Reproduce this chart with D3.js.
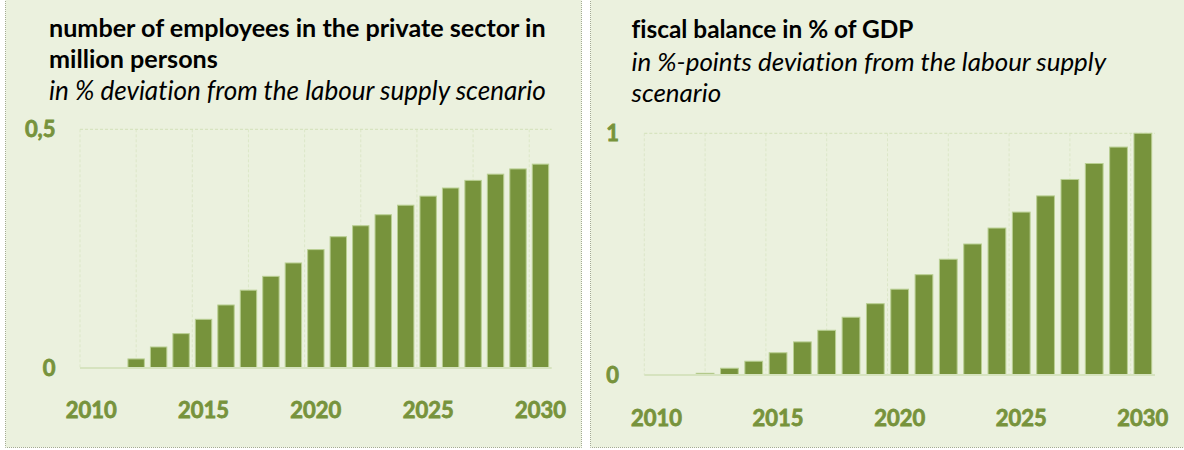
<!DOCTYPE html>
<html><head><meta charset="utf-8">
<script src="https://cdn.jsdelivr.net/npm/d3@7"></script>
<style>
body{margin:0;background:#fff}
svg{display:block}
text{font-family:Lato,"Open Sans",sans-serif;font-variant-ligatures:none}
</style>
</head><body>
<svg id="chart" width="1184" height="450"></svg>
<script>
// ---- data ----
const years = [2010,2011,2012,2013,2014,2015,2016,2017,2018,2019,2020,2021,2022,2023,2024,2025,2026,2027,2028,2029,2030];
const employeesValues = [0,0,0.019,0.044,0.072,0.102,0.132,0.163,0.192,0.220,0.248,0.275,0.298,0.321,0.341,0.360,0.377,0.393,0.406,0.417,0.427];
const fiscalValues = [0,0,0.007,0.028,0.057,0.092,0.137,0.185,0.239,0.295,0.355,0.415,0.479,0.542,0.608,0.674,0.741,0.809,0.875,0.943,1.0];
const xTickYears = [2010,2015,2020,2025,2030];
const employeesYTicks = [0,0.5];
const employeesYTickLabels = ["0","0,5"];
const fiscalYTicks = [0,1];
const fiscalYTickLabels = ["0","1"];
const employeesTitle = ["number of employees in the private sector in","million persons"];
const employeesSubtitle = ["in % deviation from the labour supply scenario"];
const fiscalTitle = ["fiscal balance in % of GDP"];
const fiscalSubtitle = ["in %-points deviation from the labour supply","scenario"];

// ---- styles ----
const BG = "#ebf1de", BAR = "#77933c", LABEL = "#77933c";

const panels = [
  {values: employeesValues, yTicks: employeesYTicks, yLabels: employeesYTickLabels,
   title: employeesTitle, subtitle: employeesSubtitle,
   box: {x:5.5, y:-5, w:576, h:452.5},
   plot: {x0:80, x1:551.7, top:129.3, base:368, max:0.5},
   yLabelRight: 55.5, yearBaseline: 418,
   textX: 49,
   lines: [{b:37, w:497},{b:68, w:169},{b:100, w:497}]},
  {values: fiscalValues, yTicks: fiscalYTicks, yLabels: fiscalYTickLabels,
   title: fiscalTitle, subtitle: fiscalSubtitle,
   box: {x:590.5, y:-5, w:620, h:452.5},
   plot: {x0:644.3, x1:1155, top:133.3, base:375, max:1},
   yLabelRight: 619, yearBaseline: 426,
   textX: 631.5,
   lines: [{b:38, w:282},{b:71, w:475},{b:102, w:89}]}
];

const svg = d3.select("#chart");

function fitSize(sel, target, base) {
  sel.style("font-size", base + "px");
  const w = sel.node().getComputedTextLength();
  const s = base * target / w;
  sel.style("font-size", s + "px");
  return s;
}

panels.forEach(p => {
  const g = svg.append("g");
  g.append("rect").attr("x", p.box.x).attr("y", p.box.y).attr("width", p.box.w).attr("height", p.box.h)
    .attr("fill", BG).attr("stroke", "#a3ab93").attr("stroke-width", 1).attr("stroke-dasharray", "1,1");

  const x = d3.scaleBand().domain(years).range([p.plot.x0, p.plot.x1]).paddingInner(0.27).paddingOuter(0.135);
  const y = d3.scaleLinear().domain([0, p.plot.max]).range([p.plot.base, p.plot.top]);
  const step = x.step();

  // vertical gridlines every 2.5 categories
  const nGrid = Math.floor((p.plot.x1 - p.plot.x0) / (2.5 * step) + 1e-6);
  const gridX = d3.range(0, nGrid + 1).map(k => p.plot.x0 + k * 2.5 * step);
  g.append("g").selectAll("line").data(gridX).join("line")
    .attr("x1", d => d).attr("x2", d => d)
    .attr("y1", y(p.plot.max)).attr("y2", y(0))
    .attr("stroke", "#dce7c8").attr("stroke-width", 1).attr("stroke-dasharray", "3,2");
  // top horizontal gridline
  g.append("line").attr("x1", p.plot.x0).attr("x2", p.plot.x1)
    .attr("y1", y(p.plot.max)).attr("y2", y(p.plot.max))
    .attr("stroke", "#d3e1b8").attr("stroke-width", 1).attr("stroke-dasharray", "3,2");

  // bars
  g.append("g").selectAll("rect").data(years.map((yr, i) => ({yr, v: p.values[i]})).filter(d => d.v > 0))
    .join("rect")
    .attr("x", d => x(d.yr)).attr("width", x.bandwidth())
    .attr("y", d => y(d.v)).attr("height", d => y(0) - y(d.v))
    .attr("fill", BAR).attr("stroke", "#b9cf92").attr("stroke-width", 1);

  // baseline
  g.append("line").attr("x1", p.plot.x0).attr("x2", p.plot.x1)
    .attr("y1", y(0)).attr("y2", y(0))
    .attr("stroke", "#d6e3bf").attr("stroke-width", 2);

  // x axis
  const xa = g.append("g").attr("transform", `translate(0,${y(0)})`)
    .call(d3.axisBottom(x).tickValues(xTickYears).tickFormat(d3.format("d")).tickSize(0));
  xa.select(".domain").remove();
  const xt = xa.selectAll("text").attr("dy", null).attr("y", p.yearBaseline - y(0))
    .attr("fill", LABEL).attr("stroke", LABEL).attr("stroke-width", 0.8)
    .style("font-weight", "bold").style("font-family", "Lato, sans-serif");
  const fs = fitSize(xt.filter((d, i) => i === 4), 51, 22);
  xt.style("font-size", fs + "px");

  // y axis
  const ya = g.append("g").attr("transform", `translate(${p.plot.x0},0)`)
    .call(d3.axisLeft(y).tickValues(p.yTicks).tickFormat((d, i) => p.yLabels[i]).tickSize(0)
      .tickPadding(p.plot.x0 - p.yLabelRight));
  ya.select(".domain").remove();
  ya.selectAll("text").attr("fill", LABEL).attr("stroke", LABEL).attr("stroke-width", 0.8)
    .style("font-weight", "bold").style("font-size", fs + "px");

  // titles
  const allLines = p.title.map(t => ({t, bold: true})).concat(p.subtitle.map(t => ({t, bold: false})));
  let boldSize = null, itSize = null;
  allLines.forEach((l, i) => {
    const t = g.append("text").attr("x", p.textX).attr("y", p.lines[i].b).text(l.t)
      .attr("fill", "#000")
      .style("font-weight", l.bold ? "bold" : "normal")
      .style("font-style", l.bold ? "normal" : "italic");
    if (l.bold) {
      if (boldSize === null) boldSize = fitSize(t, p.lines[i].w, 22);
      else t.style("font-size", boldSize + "px");
    } else {
      if (itSize === null) itSize = fitSize(t, p.lines[i].w, 22);
      else t.style("font-size", itSize + "px");
    }
  });
});
</script>
</body></html>
